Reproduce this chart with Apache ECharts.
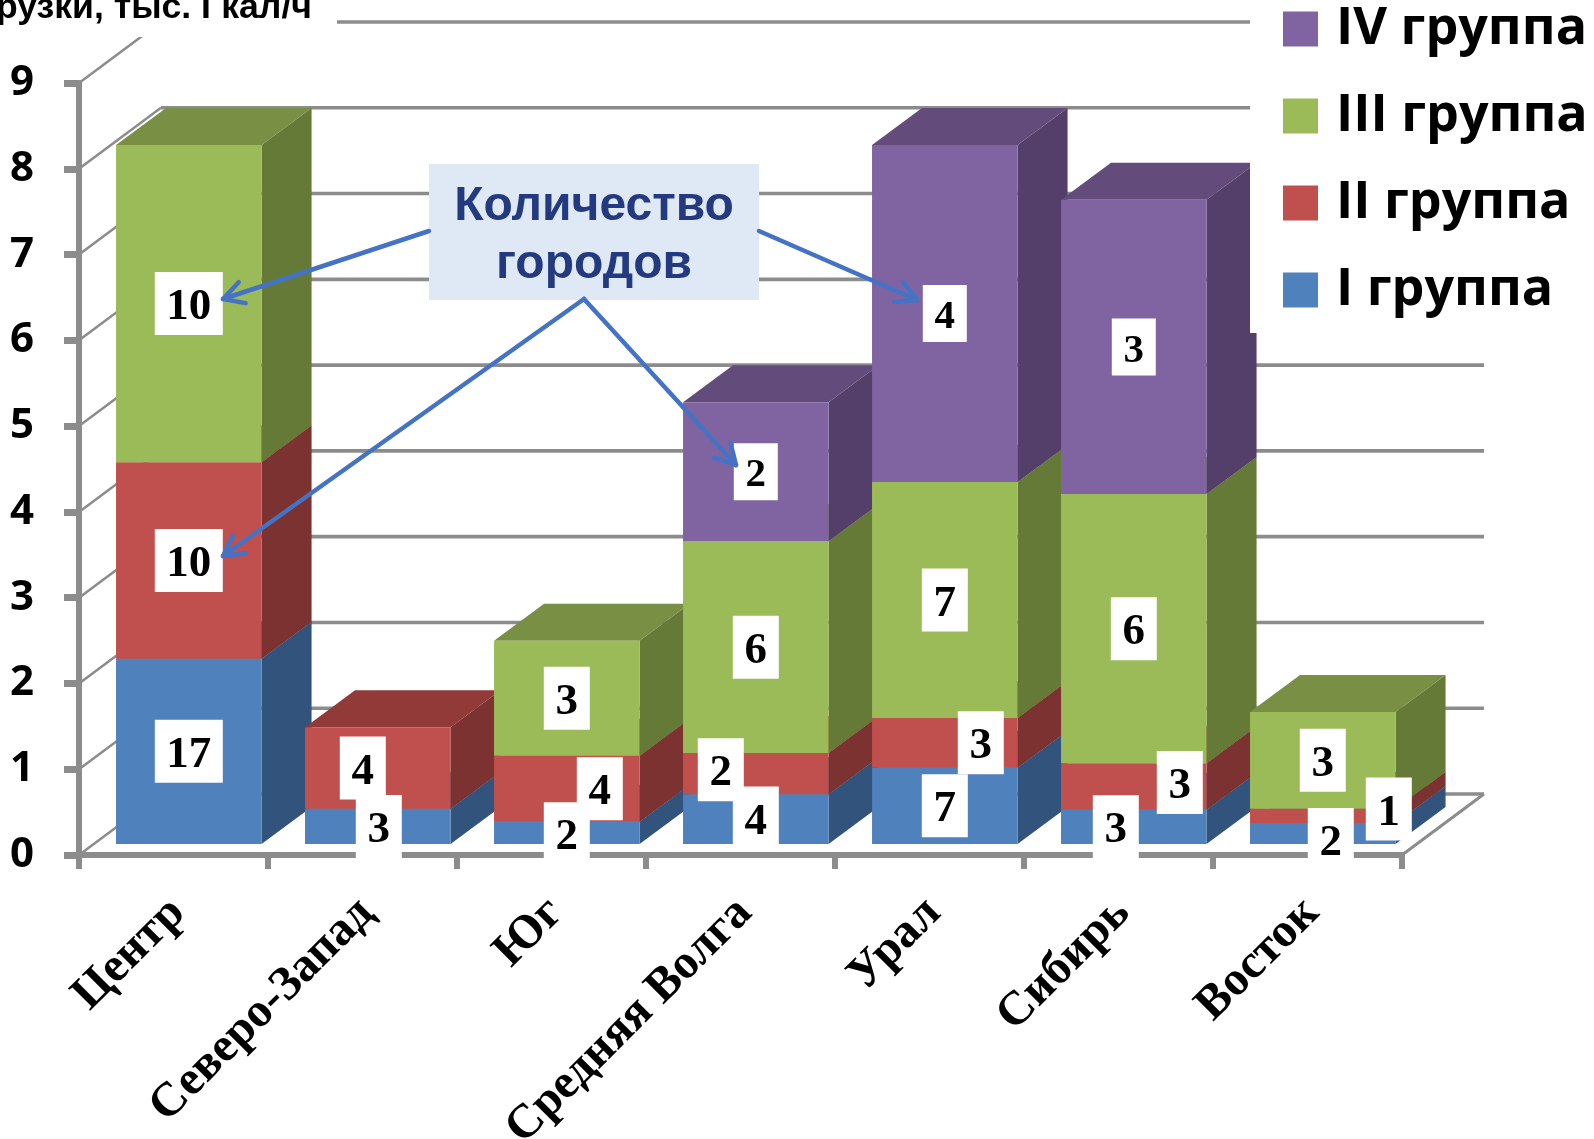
<!DOCTYPE html>
<html lang="ru">
<head>
<meta charset="utf-8">
<title>Нагрузки по регионам</title>
<script src="https://cdn.jsdelivr.net/npm/echarts@6/dist/echarts.min.js"></script>
<style>
  html, body { margin: 0; padding: 0; background: #fff; overflow: hidden; }
  #chart { width: 1594px; height: 1139px; }
</style>
</head>
<body>
<div id="chart"></div>
<script>
// Тысячи Гкал/ч по группам городов, снизу вверх в столбце
const categories = ['Центр', 'Северо-Запад', 'Юг', 'Средняя Волга', 'Урал', 'Сибирь', 'Восток'];
const yTicks = [0, 1, 2, 3, 4, 5, 6, 7, 8, 9];
const load1 = [2.16, 0.41, 0.26, 0.58, 0.89, 0.40, 0.245];
const load2 = [2.29, 0.95, 0.77, 0.48, 0.58, 0.54, 0.165];
const load3 = [3.70, null, 1.34, 2.47, 2.75, 3.14, 1.13];
const load4 = [null, null, null, 1.62, 3.93, 3.43, null];

// Количество городов в каждой группе
const cities1 = [17, 3, 2, 4, 7, 3, 2];
const cities2 = [10, 4, 4, 2, 3, 3, 1];
const cities3 = [10, null, 3, 6, 7, 6, 3];
const cities4 = [null, null, null, 2, 4, 3, null];

// Ручные сдвиги подписей от центра сегмента, чтобы они не наезжали друг на друга
const shiftX1 = [0, 1, 0, 0, 0, -18, 8];
const shiftY1 = [0, 0, 1, -1, 0, 0, 6];
const shiftX2 = [0, -15, 33, -35, 36, 46, 66];
const shiftY2 = [0, 0, 0, -4, 0, -4, -7];
const zero = [0, 0, 0, 0, 0, 0, 0];

const groups = [
  { name: 'I группа',   load: load1, cities: cities1, dx: shiftX1, dy: shiftY1, front: '#4F81BD', side: '#32547C', top: '#3B618F' },
  { name: 'II группа',  load: load2, cities: cities2, dx: shiftX2, dy: shiftY2, front: '#C0504D', side: '#7B3230', top: '#913A38' },
  { name: 'III группа', load: load3, cities: cities3, dx: zero,    dy: zero,    front: '#9BBB59', side: '#667A38', top: '#788F44' },
  { name: 'IV группа',  load: load4, cities: cities4, dx: zero,    dy: zero,    front: '#8064A2', side: '#533F6A', top: '#634C7B' }
];

// Параметры псевдотрёхмерной проекции
const WALL_DX = 82, WALL_DY = 61;
const BAR_DX = 50, BAR_DY = 37;
const FRONT_DX = 15.3, FRONT_DY = 11;
const BAR_SHARE = 0.77;
const AXIS_GRAY = '#8C8C8C';

// Задняя стенка, левая стенка и пол
function renderWall(params, api) {
  const v = api.value(0);
  const rect = params.coordSys;
  const y = api.coord([0, v])[1];
  const x0 = rect.x, x1 = rect.x + rect.width;
  const children = [
    { type: 'line', shape: { x1: x0, y1: y, x2: x0 + WALL_DX, y2: y - WALL_DY },
      style: { stroke: AXIS_GRAY, lineWidth: 2.5 } },
    { type: 'line', shape: { x1: x0 + WALL_DX, y1: y - WALL_DY, x2: x1 + WALL_DX, y2: y - WALL_DY },
      style: { stroke: AXIS_GRAY, lineWidth: 3.6 } }
  ];
  if (v === 0) {
    children.push({ type: 'line', shape: { x1: x1, y1: y, x2: x1 + WALL_DX, y2: y - WALL_DY },
      style: { stroke: AXIS_GRAY, lineWidth: 3 } });
  }
  return { type: 'group', children: children };
}

// Сегмент столбца: передняя, боковая и верхняя грани плюс подпись с числом городов
function renderSegment(g, gi) {
  return function (params, api) {
    const i = api.value(0);
    if (g.load[i] == null) return null;
    const p0 = api.coord([i, api.value(1)]);
    const p1 = api.coord([i, api.value(2)]);
    const band = api.size([1, 0])[0];
    const w = band * BAR_SHARE;
    const xl = p0[0] + FRONT_DX - w / 2;
    const xr = xl + w;
    const yb = p0[1] - FRONT_DY;
    const yt = p1[1] - FRONT_DY;
    const z = 10 + i * 10 + gi;
    const faces = [
      { type: 'polygon', z2: z,
        shape: { points: [[xr, yb], [xr + BAR_DX, yb - BAR_DY], [xr + BAR_DX, yt - BAR_DY], [xr, yt]] },
        style: { fill: g.side } },
      { type: 'polygon', z2: z,
        shape: { points: [[xl, yt], [xr, yt], [xr + BAR_DX, yt - BAR_DY], [xl + BAR_DX, yt - BAR_DY]] },
        style: { fill: g.top } },
      { type: 'rect', z2: z,
        shape: { x: xl, y: yt, width: w, height: yb - yt },
        style: { fill: g.front } }
    ];
    const n = String(g.cities[i]);
    const boxW = n.length > 1 ? 68 : (gi === 3 ? 44 : 46);
    const boxH = gi === 3 ? 57 : 63;
    const cx = (xl + xr) / 2 + g.dx[i];
    const cy = (yb + yt) / 2 + g.dy[i];
    const lz = 1000 - gi * 10;
    faces.push(
      { type: 'rect', z2: lz,
        shape: { x: cx - boxW / 2, y: cy - boxH / 2, width: boxW, height: boxH },
        style: { fill: '#fff' } },
      { type: 'text', z2: lz + 1,
        style: { text: n, x: cx, y: cy + 4, align: 'center', verticalAlign: 'middle',
                 font: 'bold ' + (gi === 3 ? 41 : 45) + 'px "Liberation Serif"', fill: '#000' } }
    );
    return { type: 'group', children: faces };
  };
}

// Выноска и её стрелки
function arrow(from, to) {
  const a = Math.atan2(to[1] - from[1], to[0] - from[0]);
  const L = 23, spread = 0.5;
  const style = { stroke: '#4472C4', lineWidth: 4.5, lineCap: 'round', lineJoin: 'round', fill: null };
  return [
    { type: 'line', z: 50, shape: { x1: from[0], y1: from[1], x2: to[0], y2: to[1] }, style: style },
    { type: 'polyline', z: 50,
      shape: { points: [
        [to[0] - L * Math.cos(a - spread), to[1] - L * Math.sin(a - spread)],
        to,
        [to[0] - L * Math.cos(a + spread), to[1] - L * Math.sin(a + spread)]
      ] }, style: style }
  ];
}

const calloutGraphics = [
  { type: 'rect', z: 49, shape: { x: 429, y: 164, width: 330, height: 136 }, style: { fill: '#DFE9F6' } },
  { type: 'text', z: 50,
    style: { text: 'Количество\nгородов', x: 594, y: 236, align: 'center', verticalAlign: 'middle',
             font: 'bold 48px "Liberation Sans"', lineHeight: 58, fill: '#243A80' } }
].concat(
  arrow([429, 231], [223, 299]),
  arrow([759, 231], [917, 300]),
  arrow([584, 299], [223, 556]),
  arrow([584, 299], [736, 465])
);

const wallSeries = {
  type: 'custom', name: 'wall', coordinateSystem: 'cartesian2d', z: 1, silent: true,
  data: yTicks.map(v => [v]),
  encode: { y: 0 },
  renderItem: renderWall
};

const barSeries = groups.map((g, gi) => ({
  type: 'custom', name: g.name, coordinateSystem: 'cartesian2d', z: 2, silent: true,
  clip: false,
  itemStyle: { color: g.front },
  encode: { x: 0, y: [1, 2] },
  data: categories.map((c, i) => {
    if (g.load[i] == null) return [i, 0, 0];
    let base = 0;
    for (let k = 0; k < gi; k++) base += groups[k].load[i] || 0;
    return [i, base, base + g.load[i]];
  }),
  renderItem: renderSegment(g, gi)
}));

const chart = echarts.init(document.getElementById('chart'), null, { renderer: 'canvas' });
chart.setOption({
  animation: false,
  backgroundColor: '#fff',
  title: {
    text: 'рузки, тыс. Гкал/ч',
    left: -4, top: -11,
    padding: [0, 25, 10, 0],
    backgroundColor: '#fff',
    textStyle: { fontFamily: 'Liberation Sans', fontWeight: 'bold', fontSize: 35.6, color: '#000', lineHeight: 38 }
  },
  legend: {
    orient: 'vertical',
    left: 1250, top: 0,
    padding: [3, 10, 17, 33],
    backgroundColor: '#fff',
    selectedMode: false,
    data: ['IV группа', 'III группа', 'II группа', 'I группа'],
    icon: 'rect',
    itemWidth: 35, itemHeight: 35, itemGap: 35,
    textStyle: { fontFamily: 'Open Sans', fontWeight: 'bold', fontSize: 52, color: '#000', lineHeight: 35, padding: [0, 0, 0, 13] }
  },
  grid: { left: 79, right: 192, top: 83, bottom: 284, outerBoundsMode: 'none' },
  xAxis: {
    type: 'category',
    data: categories,
    axisLine: { lineStyle: { color: AXIS_GRAY, width: 6 } },
    axisTick: { show: true, alignWithLabel: false, length: 14, lineStyle: { color: AXIS_GRAY, width: 6 } },
    axisLabel: {
      interval: 0, rotate: 45, margin: 55, padding: [0, -6, 0, 0],
      fontFamily: 'Liberation Serif', fontWeight: 'bold', fontSize: 48, color: '#000'
    }
  },
  yAxis: {
    type: 'value', min: 0, max: 9, interval: 1,
    splitLine: { show: false },
    axisLine: { show: true, lineStyle: { color: AXIS_GRAY, width: 6 } },
    axisTick: { show: true, length: 15, lineStyle: { color: AXIS_GRAY, width: 7 } },
    axisLabel: {
      margin: 45, padding: [14, 0, 0, 0],
      fontFamily: 'Open Sans', fontWeight: 'bold', fontSize: 42, color: '#000'
    }
  },
  graphic: { elements: calloutGraphics },
  series: [wallSeries].concat(barSeries)
});
</script>
</body>
</html>
